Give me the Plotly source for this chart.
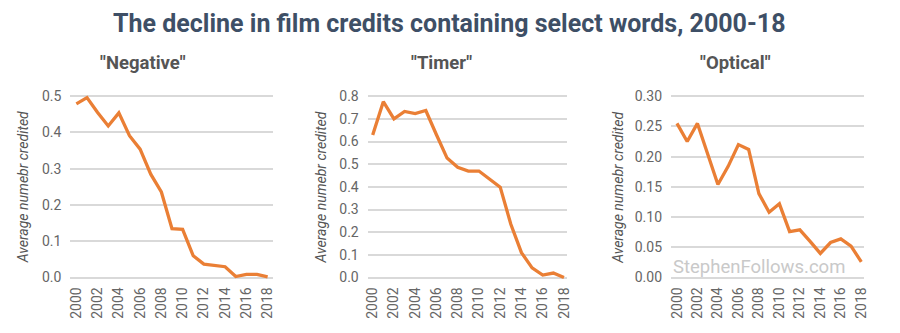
import plotly.graph_objects as go
from plotly.subplots import make_subplots

years = list(range(2000, 2019))
negative = [0.479, 0.496, 0.455, 0.418, 0.454, 0.391, 0.354, 0.285, 0.236, 0.135, 0.133,
            0.060, 0.037, 0.033, 0.030, 0.003, 0.009, 0.009, 0.002]
timer = [0.629, 0.776, 0.700, 0.733, 0.723, 0.737, 0.630, 0.527, 0.487, 0.470, 0.470,
         0.434, 0.399, 0.235, 0.110, 0.043, 0.011, 0.020, 0.000]
optical = [0.255, 0.225, 0.255, 0.205, 0.154, 0.184, 0.220, 0.212, 0.139, 0.108, 0.122,
           0.076, 0.079, 0.060, 0.040, 0.058, 0.064, 0.052, 0.026]

panel_titles = ['"Negative"', '"Timer"', '"Optical"']
series = [negative, timer, optical]
y_ticks = [
    [0.0, 0.1, 0.2, 0.3, 0.4, 0.5],
    [0.0, 0.1, 0.2, 0.3, 0.4, 0.5, 0.6, 0.7, 0.8],
    [0.00, 0.05, 0.10, 0.15, 0.20, 0.25, 0.30],
]
y_tick_fmt = [".1f", ".1f", ".2f"]
y_max = [0.5, 0.8, 0.3]
main_title = "The decline in film credits containing select words, 2000-18"
y_title = "Average numebr credited"
watermark = "StephenFollows.com"

W, H = 900, 333
# pixel geometry
x_px = [(68, 272), (368, 569), (674, 869)]
x_year_px = [(74, 267), (373, 566), (680, 866)]
y0_px, ytop_px = 280, 93
pad_bot, pad_top = 4, 2
title_x_px = [141, 442, 739]
ytitle_x_px = [21, 321, 621]

fig = make_subplots(rows=1, cols=3)
line_color = "#EA7F35"
grid_color = "#d9d9d9"
tick_color = "#666666"

for i in range(3):
    fig.add_trace(go.Scatter(x=years, y=series[i], mode="lines",
                             line=dict(color=line_color, width=3.3),
                             showlegend=False, hoverinfo="x+y"), row=1, col=i + 1)
    (gx0, gx1), (yx0, yx1) = x_px[i], x_year_px[i]
    ppy = (yx1 - yx0) / 18.0
    xr = [2000 - (yx0 - gx0) / ppy, 2018 + (gx1 - yx1) / ppy]
    ppu = (y0_px - ytop_px) / y_max[i]
    yr = [-pad_bot / ppu, y_max[i] + pad_top / ppu]
    ax = "xaxis" if i == 0 else f"xaxis{i+1}"
    ay = "yaxis" if i == 0 else f"yaxis{i+1}"
    fig.layout[ax].update(domain=[gx0 / W, gx1 / W], range=xr,
                          tickmode="array", tickvals=list(range(2000, 2019, 2)),
                          ticktext=[str(v) for v in range(2000, 2019, 2)],
                          tickangle=-90, showgrid=False, zeroline=False, showline=False,
                          ticks="", ticklabelstandoff=2,
                          tickfont=dict(family="Roboto", size=14, color=tick_color),
                          fixedrange=True)
    fig.layout[ay].update(domain=[(H - (y0_px + pad_bot)) / H, (H - (ytop_px - pad_top)) / H],
                          range=yr, tickmode="array", tickvals=y_ticks[i],
                          ticktext=[format(v, y_tick_fmt[i]) for v in y_ticks[i]],
                          showgrid=True, gridcolor=grid_color, gridwidth=1.5,
                          zeroline=False, showline=False, ticks="",
                          ticklabelstandoff=8,
                          tickfont=dict(family="Roboto", size=14, color=tick_color),
                          fixedrange=True)
    fig.add_annotation(text=panel_titles[i], x=title_x_px[i] / W, y=1 - 59 / H,
                       xref="paper", yref="paper", showarrow=False,
                       xanchor="center", yanchor="middle",
                       font=dict(family="Roboto", size=18.5, color="#555555", weight="bold"))
    fig.add_annotation(text=f"<i>{y_title}</i>", x=ytitle_x_px[i] / W, y=1 - 187 / H,
                       xref="paper", yref="paper", showarrow=False, textangle=-90,
                       xanchor="center", yanchor="middle",
                       font=dict(family="Roboto", size=14, color="#555555"))

fig.add_annotation(text=main_title, x=0.5, y=1 - 18 / H, xref="paper", yref="paper",
                   showarrow=False, xanchor="center", yanchor="middle",
                   font=dict(family="Roboto", size=25, color="#3e4f66", weight="bold"))
fig.add_annotation(text=watermark, x=763 / W, y=1 - 269 / H, xref="paper", yref="paper",
                   showarrow=False, xanchor="center", yanchor="middle",
                   font=dict(family="Roboto", size=18.5, color="#c9c9c9"))

fig.update_layout(width=W, height=H, margin=dict(l=0, r=0, t=0, b=0),
                  paper_bgcolor="white", plot_bgcolor="white",
                  font=dict(family="Roboto"))
fig.write_html("out.html")
